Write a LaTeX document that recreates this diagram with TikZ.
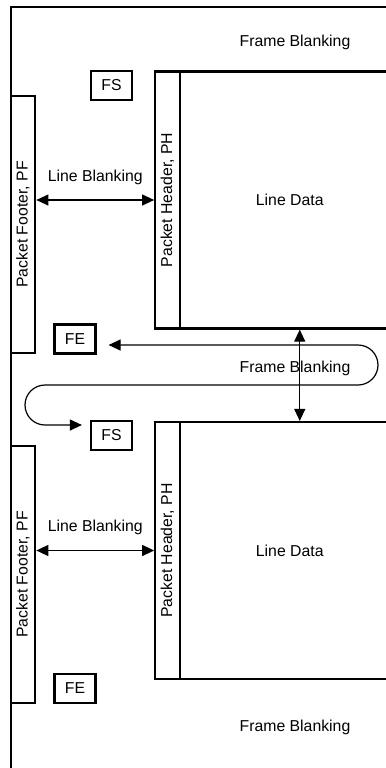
\documentclass[tikz,border=0pt]{standalone}
\usepackage{fontspec}
\setmainfont{Liberation Sans}
\usetikzlibrary{arrows.meta,positioning}

\tikzset{
	blk/.style={line width=1.1pt},
	tag/.style={draw, blk, inner sep=0pt, minimum width=20.5pt, minimum height=14.5pt},
	packet/.style={draw, blk, rotate=90, inner sep=0pt, outer sep=0pt, minimum width=128.5pt, minimum height=12.25pt},
	linedata/.style={draw, blk, inner sep=0pt, outer sep=0pt, minimum width=110pt, minimum height=128.5pt, anchor=west},
	dim/.style={line width=0.6pt, {Triangle[length=6pt,width=5.5pt]}-{Triangle[length=6pt,width=5.5pt]}},
}

\begin{document}
\begin{tikzpicture}[x=0.5pt, y=-0.5pt, font=\fontsize{7.9}{9.5}\selectfont]
		\useasboundingbox (0,0) rectangle (386,768);
		\clip (0,0) rectangle (386,768);
		
		% outer frame
		\draw[blk] (400,7) -- (11,7) -- (11,780);
		
		% first line
		\node[packet] (pfA) at (23,224.5) {Packet Footer, PF};
		\node[packet] (phA) at (167.5,200) {Packet Header, PH};
		\node[linedata] (ldA) at (phA.south) {Line Data};
		\node[tag] (fsA) at (111.5,85.5) {FS};
		\node[tag] (feA) at (75,339) {FE};
		\draw[dim] ([xshift=0.55pt]phA.north -| pfA.south) -- node[above=4pt] {Line Blanking} ([xshift=-0.55pt]phA.north);
		
		% second line
		\node[packet] (pfB) at (23,574.5) {Packet Footer, PF};
		\node[packet] (phB) at (167.5,550.5) {Packet Header, PH};
		\node[linedata] (ldB) at (phB.south) {Line Data};
		\node[tag] (fsB) at (111.5,435.5) {FS};
		\node[tag] (feB) at (75,688.5) {FE};
		\draw[dim] ([xshift=0.55pt]phB.north -| pfB.south) -- node[above=4pt] {Line Blanking} ([xshift=-0.55pt]phB.north);
		
		% frame blanking
		\node (fbTop) at (295,42) {Frame Blanking};
		\node (fbMid) at (295,368) {Frame Blanking};
		\node (fbBot) at (295,727) {Frame Blanking};
		\draw[dim] ([xshift=5pt,yshift=-0.55pt]ldA.south) -- ([xshift=5pt,yshift=0.55pt]ldB.north);
		\draw[dim] ([xshift=6pt,yshift=-3pt]feA.east) -- (358,345)
			arc[start angle=-90, end angle=90, radius=20] -- (45,385)
			arc[start angle=270, end angle=90, radius=20]
			-- ([xshift=-4pt,yshift=5.25pt]fsB.west);
	\end{tikzpicture}
\end{document}
